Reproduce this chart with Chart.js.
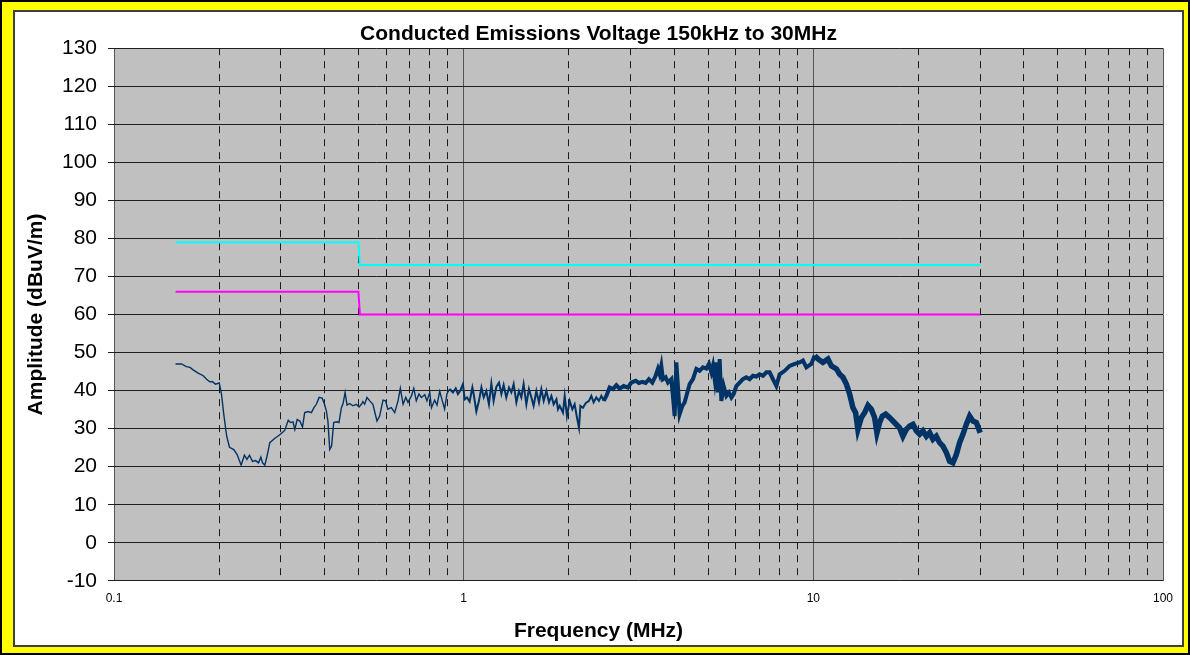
<!DOCTYPE html>
<html>
<head>
<meta charset="utf-8">
<title>Conducted Emissions Voltage 150kHz to 30MHz</title>
<script src="https://cdn.jsdelivr.net/npm/chart.js@4.4.1/dist/chart.umd.min.js"></script>
<style>
  body { margin: 0; background: #fff; }
  #frame { position: relative; width: 1190px; height: 655px; box-sizing: border-box; border: 2px solid #000; background: #ffff00; }
  #panel { position: absolute; left: 11px; top: 8px; width: 1171px; height: 637px; box-sizing: border-box; border: 2px solid #404040; background: #fff; }
  #chart-ce { display: block; }
</style>
</head>
<body>
<div id="frame">
  <div id="panel">
    <canvas id="chart-ce" width="1167" height="633"></canvas>
  </div>
</div>
<script>
// measured trace, frequency in MHz / level in dBuV/m
const traceFreqA = [0.150,0.156,0.161,0.165,0.168,0.174,0.180,0.184,0.188,0.191,
  0.195,0.200,0.203,0.206,0.210,0.214,0.220,0.225,0.231,0.236,
  0.240,0.244,0.249,0.254,0.259,0.263,0.266,0.270,0.274,0.279,
  0.288,0.294,0.301,0.308,0.315,0.320,0.325,0.329,0.334,0.340,
  0.346,0.351,0.359,0.367,0.373,0.379,0.386,0.394,0.400,0.405,
  0.409,0.414,0.419,0.425,0.433,0.440,0.447,0.452,0.458,0.464,
  0.472,0.482,0.493,0.502];
const traceLevelA = [47.0,47.0,46.3,46.1,45.5,44.6,43.9,43.0,42.3,42.4,
  41.7,42.0,39.0,33.8,28.0,25.1,24.5,23.2,20.4,23.0,
  21.9,23.0,21.4,21.6,21.0,22.5,21.0,20.4,22.8,26.3,
  27.4,28.0,28.7,29.6,32.2,31.6,31.8,29.8,32.4,32.0,
  30.4,34.2,34.5,34.2,35.5,36.4,38.2,38.0,36.4,34.6,
  32.0,24.5,25.4,31.6,31.8,31.6,35.5,36.6,39.5,36.2,
  36.6,36.0,36.4,35.7];

const traceFreqB = [0.510,0.515,0.521,0.529,0.539,0.550,0.565,0.575,0.588,0.598,
  0.607,0.621,0.635,0.649,0.659,0.671,0.683,0.693,0.709,0.720,
  0.732,0.745,0.757,0.774,0.785,0.800,0.809,0.826,0.839,0.854,
  0.869,0.882,0.896,0.912,0.932,0.949,0.963,0.979,0.995,1.007,
  1.022,1.040,1.059,1.068,1.087,1.106,1.124,1.141,1.161,1.181,
  1.200,1.218,1.240,1.262,1.282,1.301,1.324,1.348,1.369,1.390,
  1.415,1.439,1.462,1.484,1.511,1.537,1.562,1.585,1.614,1.642,
  1.668,1.694,1.724,1.754,1.782,1.809,1.842,1.861];
const traceLevelB = [36.4,37.1,36.4,38.2,37.3,36.4,32.0,33.3,37.5,37.3,
  35.1,35.5,34.2,37.3,40.6,36.4,38.2,36.9,38.6,40.6,
  37.3,39.1,38.2,38.9,37.3,39.5,35.5,37.5,36.2,39.8,
  37.3,35.1,39.2,40.4,39.5,40.6,39.1,40.1,41.7,37.7,
  38.2,37.1,40.8,39.1,34.5,37.3,40.8,38.2,39.9,36.4,
  41.9,37.3,41.0,42.1,39.1,41.5,38.2,40.8,39.5,41.7,
  36.9,39.9,38.2,41.7,36.4,40.4,38.2,36.0,39.9,36.9,
  40.4,37.3,39.9,36.9,38.6,36.4,37.7,35.1];

const traceFreqC = [1.882,1.923,1.945,1.974,2.010,2.046,2.077,2.109,2.137,2.157,
  2.194,2.233,2.282,2.318,2.353,2.395,2.437,2.476,2.514,2.559,
  2.615,2.673,2.733,2.793,2.868,2.950,3.016,3.103,3.171,3.243,
  3.314,3.387,3.464,3.540,3.594,3.635,3.675,3.714,3.781,3.839,
  3.926,3.986,4.012,4.057,4.100,4.146,4.221,4.285,4.334,4.429,
  4.526,4.629,4.730,4.834,4.943,5.029,5.109,5.163,5.222,5.280,
  5.336,5.396,5.457,5.540,5.639,5.737,5.828,5.917,6.023,6.155,
  6.290,6.433,6.574,6.719,6.871,7.022,7.176,7.339];
const traceLevelC = [36.0,34.2,38.6,33.3,37.3,35.1,36.4,32.9,30.2,36.0,
  35.5,36.7,37.3,38.6,36.9,38.2,37.3,38.6,37.3,38.6,
  40.8,40.4,41.4,40.5,41.2,40.8,42.1,42.6,42.0,42.3,
  42.0,43.0,42.1,43.9,45.7,44.3,46.5,43.0,43.5,42.1,
  43.0,36.4,33.3,47.4,41.2,33.8,36.0,36.9,38.6,41.7,
  43.0,45.7,45.2,46.1,45.8,47.0,44.8,46.5,43.0,47.4,
  39.5,48.3,37.3,41.2,38.6,39.5,38.2,39.1,41.2,42.1,
  43.0,43.5,43.0,43.9,43.7,44.3,43.9,44.8];

const traceFreqD = [7.500,7.665,7.838,8.011,8.279,8.556,8.843,9.139,9.340,9.550,
  9.869,10.09,10.31,10.65,11.01,11.26,11.64,11.89,12.15,12.43,
  12.70,12.98,13.21,13.41,13.72,14.02,14.33,14.65,14.97,15.20,
  15.47,15.75,16.10,16.52,16.89,17.27,17.65,18.04,18.45,18.86,
  19.27,19.71,20.14,20.58,21.05,21.51,21.98,22.47,22.97,23.48,
  24.01,24.53,25.07,25.64,26.20,26.78,27.38,27.99,28.60,29.25,
  30.00];
const traceLevelD = [44.8,43.0,41.2,44.3,45.2,46.5,47.0,47.4,47.9,46.1,
  47.0,49.2,48.3,47.4,48.3,46.5,45.7,44.3,43.5,41.7,
  39.1,35.5,34.2,29.8,32.9,34.2,36.1,35.1,32.9,28.9,
  31.6,33.3,33.8,32.9,32.0,31.1,30.2,28.0,29.8,30.7,
  31.1,29.4,28.5,29.4,28.0,28.9,27.2,28.0,26.3,25.4,
  23.7,21.4,21.0,23.2,26.3,28.5,31.1,33.3,32.0,31.6,
  28.9];

// limit lines
const qpLimitFreq = [0.15, 0.5, 0.505, 30];
const qpLimitLevel = [79, 79, 73, 73];
const avgLimitFreq = [0.15, 0.5, 0.505, 30];
const avgLimitLevel = [66, 66, 60, 60];

// axes
const xTickValues = [0.1,0.2,0.3,0.4,0.5,0.6,0.7,0.8,0.9,
  1,2,3,4,5,6,7,8,9,
  10,20,30,40,50,60,70,80,90,100];
const decadeTicks = [0.1, 1, 10, 100];
const decadeLabels = ["0.1", "1", "10", "100"];
const yTickValues = [-10,0,10,20,30,40,50,60,70,80,90,100,110,120,130];

const FONT = "'Liberation Sans', Arial, sans-serif";

function toPoints(freqs, levels) {
  return freqs.map((f, i) => ({ x: f, y: levels[i] }));
}

const traceFreq = traceFreqA.concat(traceFreqB, traceFreqC, traceFreqD);
const traceLevel = traceLevelA.concat(traceLevelB, traceLevelC, traceLevelD);

const isDecade = v => decadeTicks.indexOf(v) >= 0;

// grey plotting area like the original spreadsheet chart
const plotBg = {
  id: "plotBg",
  beforeDraw(chart) {
    const { ctx, chartArea: a } = chart;
    ctx.save();
    ctx.fillStyle = "#c0c0c0";
    ctx.fillRect(a.left, a.top, a.right - a.left, a.bottom - a.top);
    ctx.restore();
  }
};

new Chart(document.getElementById("chart-ce"), {
  type: "line",
  data: {
    datasets: [
      {
        label: "Measured",
        data: toPoints(traceFreq, traceLevel),
        borderColor: "#003366",
        borderWidth: 1.5,
        pointRadius: 0,
        tension: 0,
        segment: {
          borderWidth: ctx => {
            const f = ctx.p0.parsed.x;
            return f < 0.9 ? 1.4 : f < 2.5 ? 2 : f < 10 ? 4 : 5.5;
          }
        }
      },
      {
        label: "QP limit",
        data: toPoints(qpLimitFreq, qpLimitLevel),
        borderColor: "#00ffff",
        borderWidth: 2,
        pointRadius: 0,
        tension: 0
      },
      {
        label: "AV limit",
        data: toPoints(avgLimitFreq, avgLimitLevel),
        borderColor: "#ff00ff",
        borderWidth: 2,
        pointRadius: 0,
        tension: 0
      }
    ]
  },
  options: {
    responsive: false,
    animation: false,
    devicePixelRatio: 1,
    layout: { padding: 0 },
    scales: {
      x: {
        type: "logarithmic",
        min: 0.1,
        max: 100,
        afterBuildTicks: scale => { scale.ticks = xTickValues.map(v => ({ value: v })); },
        afterFit: scale => {
          scale.height = 34;
          scale.paddingLeft = 0;
          scale.paddingRight = 0;
        },
        ticks: {
          autoSkip: false,
          maxRotation: 0,
          padding: 11,
          color: "#000",
          font: { family: FONT, size: 12 },
          callback: value => {
            const i = decadeTicks.indexOf(value);
            return i >= 0 ? decadeLabels[i] : "";
          }
        },
        grid: {
          drawTicks: false,
          lineWidth: 1,
          color: ctx => (ctx.tick && isDecade(ctx.tick.value) ? "#555555" : "#1a1a1a")
        },
        border: {
          display: false,
          dash: ctx => (ctx.tick && !isDecade(ctx.tick.value) ? [7, 6] : [])
        }
      },
      y: {
        min: -10,
        max: 130,
        afterBuildTicks: scale => { scale.ticks = yTickValues.map(v => ({ value: v })); },
        afterFit: scale => { scale.width = 99; },
        ticks: {
          padding: 11,
          color: "#000",
          font: { family: FONT, size: 21 }
        },
        grid: {
          color: "#1e1e1e",
          lineWidth: 1,
          drawTicks: true,
          tickLength: 6,
          tickColor: "#1e1e1e"
        },
        border: { display: false },
        title: {
          display: true,
          text: "Amplitude (dBuV/m)",
          color: "#000",
          font: { family: FONT, size: 21, weight: "bold" },
          padding: { top: 9, bottom: 0 }
        }
      },
      yPad: {
        axis: "y",
        type: "linear",
        position: "right",
        grid: { display: false },
        border: { display: false },
        ticks: { display: false },
        afterFit: scale => { scale.width = 19; }
      }
    },
    plugins: {
      legend: { display: false },
      tooltip: { enabled: false },
      title: {
        display: true,
        text: "Conducted Emissions Voltage 150kHz to 30MHz",
        color: "#000",
        font: { family: FONT, size: 21, weight: "bold" },
        padding: { top: 10, bottom: 1 }
      },
      subtitle: {
        display: true,
        position: "bottom",
        text: "Frequency (MHz)",
        color: "#000",
        font: { family: FONT, size: 21, weight: "bold" },
        padding: { top: 4, bottom: 1 }
      }
    }
  },
  plugins: [plotBg]
});
</script>
</body>
</html>
